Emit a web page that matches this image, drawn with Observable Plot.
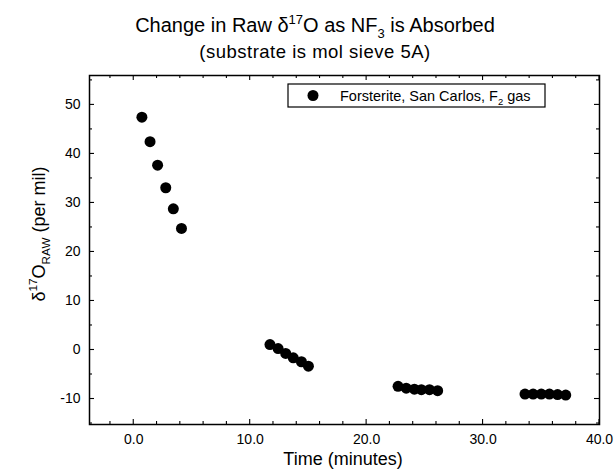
<!DOCTYPE html>
<html>
<head>
<meta charset="utf-8">
<script src="https://cdn.jsdelivr.net/npm/d3@7"></script>
<script src="https://cdn.jsdelivr.net/npm/@observablehq/plot@0.6"></script>
<style>
  body { margin: 0; background: #fff; }
  #chart svg { display: block; }
</style>
</head>
<body>
<div id="chart"></div>
<script>
// Data
const time = [0.7, 1.4, 2.05, 2.75, 3.4, 4.1,
              11.7, 12.4, 13.05, 13.7, 14.4, 15.0,
              22.7, 23.4, 24.1, 24.7, 25.4, 26.1,
              33.6, 34.3, 35.0, 35.7, 36.4, 37.1];
const delta17O = [47.5, 42.5, 37.7, 33.1, 28.8, 24.8,
                  1.1, 0.3, -0.7, -1.6, -2.4, -3.3,
                  -7.4, -7.8, -8.0, -8.1, -8.1, -8.3,
                  -9.0, -9.0, -9.0, -9.0, -9.1, -9.2];
const xMajor = [0, 10, 20, 30, 40];
const xMinor = [-2, 2, 4, 6, 8, 12, 14, 16, 18, 22, 24, 26, 28, 32, 34, 36, 38];
const yMajor = [-10, 0, 10, 20, 30, 40, 50];
const yMinor = [-15, -5, 5, 15, 25, 35, 45, 55];
const seriesName = "Forsterite, San Carlos, F";

const data = time.map((t, i) => ({time: t, value: delta17O[i]}));
const font = "'Liberation Sans', Arial, Helvetica, sans-serif";

const plot = Plot.plot({
  width: 615,
  height: 470,
  marginLeft: 89,
  marginRight: 16,
  marginTop: 75,
  marginBottom: 46,
  style: {fontFamily: font, fontSize: "14px", color: "#000", background: "#fff"},
  x: {domain: [-3.8, 40], label: null},
  y: {domain: [-15.2, 56], label: null},
  marks: [
    Plot.axisX(xMajor, {anchor: "bottom", tickSize: 0, tickPadding: 10, tickFormat: d3.format(".1f"), fontSize: 14}),
    Plot.axisY(yMajor, {anchor: "left", tickSize: 0, tickPadding: 9, tickFormat: d => d3.format("d")(d).replace("−", "-"), fontSize: 14}),
    Plot.frame({stroke: "#000", strokeWidth: 1.5}),
    Plot.dot(data, {x: "time", y: "value", r: 5.5, fill: "#000", stroke: "none"})
  ]
});

document.getElementById("chart").appendChild(plot);

const svg = d3.select(plot);
const xs = plot.scale("x"), ys = plot.scale("y");
const [x0, x1] = xs.range, [yb, yt] = ys.range; // yb bottom, yt top

// Inward tick marks on all four sides, positioned through Plot's scales
const tg = svg.append("g").attr("stroke", "#000").attr("stroke-width", 1.1);
function xTicks(values, len) {
  values.forEach(v => {
    const px = xs.apply(v);
    tg.append("line").attr("x1", px).attr("x2", px).attr("y1", yb).attr("y2", yb - len);
    tg.append("line").attr("x1", px).attr("x2", px).attr("y1", yt).attr("y2", yt + len);
  });
}
function yTicks(values, len) {
  values.forEach(v => {
    const py = ys.apply(v);
    tg.append("line").attr("y1", py).attr("y2", py).attr("x1", x0).attr("x2", x0 + len);
    tg.append("line").attr("y1", py).attr("y2", py).attr("x1", x1).attr("x2", x1 - len);
  });
}
xTicks(xMajor, 5); xTicks(xMinor, 3);
yTicks(yMajor, 5); yTicks(yMinor, 3);

// Titles, axis labels and legend with super/subscripts
function richText(g, parts, attrs) {
  const t = g.append("text").attr("font-family", font).attr("fill", "#000").attr("text-anchor", "start");
  Object.entries(attrs).forEach(([k, v]) => t.attr(k, v));
  const base = parseFloat(attrs["font-size"]);
  let shift = 0;
  parts.forEach(([s, kind]) => {
    const ts = t.append("tspan").text(s);
    let target = 0;
    if (kind === "sup") { target = -0.42 * base; ts.attr("font-size", base * 0.65); }
    else if (kind === "sub") { target = 0.3 * base; ts.attr("font-size", base * 0.65); }
    ts.attr("dy", target - shift);
    shift = target;
  });
  return t;
}

richText(svg, [["Change in Raw δ"], ["17", "sup"], ["O as NF"], ["3", "sub"], [" is Absorbed"]],
  {x: 315, y: 32, "text-anchor": "middle", "font-size": 20});
richText(svg, [["(substrate is mol sieve 5A)"]],
  {x: 315, y: 58, "text-anchor": "middle", "font-size": 18.5, "letter-spacing": 0.5});
richText(svg, [["Time (minutes)"]],
  {x: 343, y: 465, "text-anchor": "middle", "font-size": 18});
richText(svg, [["δ"], ["17", "sup"], ["O"], ["RAW", "sub"], [" (per mil)"]],
  {transform: "translate(45,234) rotate(-90)", "text-anchor": "middle", "font-size": 18});

// Legend
const lg = svg.append("g");
lg.append("rect").attr("x", 288).attr("y", 84).attr("width", 257).attr("height", 23)
  .attr("fill", "#fff").attr("stroke", "#000").attr("stroke-width", 1.2);
lg.append("circle").attr("cx", 313).attr("cy", 95.5).attr("r", 5.5).attr("fill", "#000");
richText(lg, [[seriesName], ["2", "sub"], [" gas"]],
  {x: 340, y: 100.5, "font-size": 14.5, "text-anchor": "start"});
</script>
</body>
</html>
